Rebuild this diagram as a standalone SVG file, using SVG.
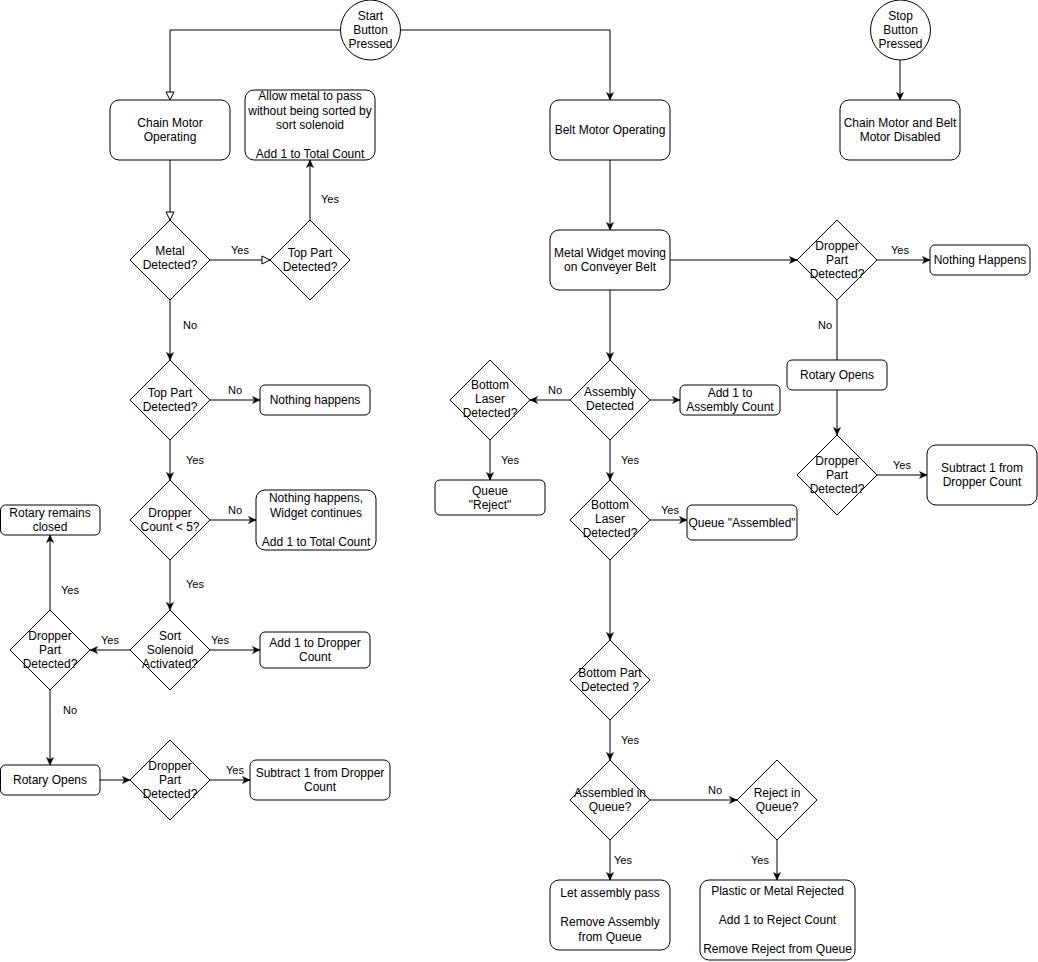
<svg xmlns="http://www.w3.org/2000/svg" width="1038" height="962" viewBox="0 0 1038 962">
<defs>
<style>
.n{fill:#fff;stroke:#000;stroke-width:1}
.t{font-family:"Liberation Sans",Arial,sans-serif;font-size:12px;fill:#000;text-anchor:middle;dominant-baseline:central}
.l{font-family:"Liberation Sans",Arial,sans-serif;font-size:11px;fill:#000;text-anchor:middle;dominant-baseline:central}
.e{fill:none;stroke:#000;stroke-width:1}
.f{marker-end:url(#arr)}
.o{marker-end:url(#open)}
</style>
<marker id="arr" markerUnits="userSpaceOnUse" markerWidth="10" markerHeight="10" refX="8" refY="4" orient="auto">
<path d="M0.5,0.5 L8,4 L0.5,7.5 L2.5,4 Z" fill="#000" stroke="#000" stroke-width="0.5"/>
</marker>
<marker id="open" markerUnits="userSpaceOnUse" markerWidth="11" markerHeight="11" refX="9" refY="5" orient="auto">
<path d="M1,1 L9,5 L1,9 Z" fill="#fff" stroke="#000" stroke-width="1"/>
</marker>
</defs>
<rect width="1038" height="962" fill="#fff"/>
<g id="connectors">
<path class="e o" d="M340,30 H170 V100"/>
<path class="e f" d="M401,30 H610 V100"/>
<path class="e o" d="M170,160 V220"/>
<path class="e o" d="M210,260 H270"/>
<path class="e f" d="M310,220 V160"/>
<path class="e f" d="M170,300 V360"/>
<path class="e f" d="M210,400 H260"/>
<path class="e f" d="M170,440 V480"/>
<path class="e f" d="M210,520 H256"/>
<path class="e f" d="M170,560 V610"/>
<path class="e f" d="M210,650 H260"/>
<path class="e f" d="M130,650 H90"/>
<path class="e f" d="M50,610 V535"/>
<path class="e f" d="M50,690 V765"/>
<path class="e f" d="M100,780 H130"/>
<path class="e f" d="M210,780 H250"/>
<path class="e f" d="M610,160 V230"/>
<path class="e f" d="M670,260 H797"/>
<path class="e f" d="M877,260 H930"/>
<path class="e" d="M837,300 V360"/>
<path class="e f" d="M837,390 V435"/>
<path class="e f" d="M877,475 H927"/>
<path class="e f" d="M900,60 V100"/>
<path class="e f" d="M610,290 V360"/>
<path class="e f" d="M650,400 H680"/>
<path class="e f" d="M570,400 H530"/>
<path class="e f" d="M490,440 V480"/>
<path class="e f" d="M610,440 V480"/>
<path class="e f" d="M650,520 H687"/>
<path class="e f" d="M610,560 V640"/>
<path class="e f" d="M610,720 V760"/>
<path class="e f" d="M650,800 H737"/>
<path class="e f" d="M777,840 V880"/>
<path class="e f" d="M610,840 V880"/>
<text class="l" x="240" y="250">Yes</text>
<text class="l" x="330" y="199">Yes</text>
<text class="l" x="190" y="325">No</text>
<text class="l" x="235" y="390">No</text>
<text class="l" x="195" y="460">Yes</text>
<text class="l" x="235" y="510">No</text>
<text class="l" x="195" y="584">Yes</text>
<text class="l" x="220" y="640">Yes</text>
<text class="l" x="110" y="640">Yes</text>
<text class="l" x="70" y="590">Yes</text>
<text class="l" x="70" y="710">No</text>
<text class="l" x="235" y="770">Yes</text>
<text class="l" x="900" y="250">Yes</text>
<text class="l" x="825" y="325">No</text>
<text class="l" x="902" y="465">Yes</text>
<text class="l" x="555" y="390">No</text>
<text class="l" x="510" y="460">Yes</text>
<text class="l" x="630" y="460">Yes</text>
<text class="l" x="670" y="510">Yes</text>
<text class="l" x="630" y="740">Yes</text>
<text class="l" x="715" y="790">No</text>
<text class="l" x="760" y="860">Yes</text>
<text class="l" x="623" y="860">Yes</text>
</g>
<g id="start"><circle class="n" cx="370.5" cy="30" r="30"/><text class="t" x="370.5" y="16">Start</text><text class="t" x="370.5" y="30">Button</text><text class="t" x="370.5" y="44">Pressed</text></g>
<g id="chainMotor"><rect class="n" x="110" y="100" width="120" height="60" rx="9"/><text class="t" x="170" y="123">Chain Motor</text><text class="t" x="170" y="137">Operating</text></g>
<g id="allowMetal"><rect class="n" x="245" y="90" width="130" height="70" rx="9"/><text class="t" x="310" y="96.2">Allow metal to pass</text><text class="t" x="310" y="110.6">without being sorted by</text><text class="t" x="310" y="125">sort solenoid</text><text class="t" x="310" y="153.8">Add 1 to Total Count</text></g>
<g id="metalDetected"><path class="n" d="M170,220 L210,260 L170,300 L130,260 Z"/><text class="t" x="170" y="251">Metal</text><text class="t" x="170" y="265">Detected?</text></g>
<g id="topPart1"><path class="n" d="M310,220 L350,260 L310,300 L270,260 Z"/><text class="t" x="310" y="253">Top Part</text><text class="t" x="310" y="267">Detected?</text></g>
<g id="topPart2"><path class="n" d="M170,360 L210,400 L170,440 L130,400 Z"/><text class="t" x="170" y="393">Top Part</text><text class="t" x="170" y="407">Detected?</text></g>
<g id="nothing1"><rect class="n" x="260" y="385" width="110" height="30" rx="5"/><text class="t" x="315" y="400">Nothing happens</text></g>
<g id="dropperCount"><path class="n" d="M170,480 L210,520 L170,560 L130,520 Z"/><text class="t" x="170" y="513">Dropper</text><text class="t" x="170" y="527">Count &lt; 5?</text></g>
<g id="nothing2"><rect class="n" x="256" y="490" width="120" height="60" rx="9"/><text class="t" x="316" y="498.4">Nothing happens,</text><text class="t" x="316" y="512.8">Widget continues</text><text class="t" x="316" y="541.6">Add 1 to Total Count</text></g>
<g id="sortSolenoid"><path class="n" d="M170,610 L210,650 L170,690 L130,650 Z"/><text class="t" x="170" y="635.6">Sort</text><text class="t" x="170" y="650">Solenoid</text><text class="t" x="170" y="664.4">Activated?</text></g>
<g id="addDropper"><rect class="n" x="260" y="632" width="110" height="36" rx="5"/><text class="t" x="315" y="643">Add 1 to Dropper</text><text class="t" x="315" y="657">Count</text></g>
<g id="dropperPartL1"><path class="n" d="M50,610 L90,650 L50,690 L10,650 Z"/><text class="t" x="50" y="635.6">Dropper</text><text class="t" x="50" y="650">Part</text><text class="t" x="50" y="664.4">Detected?</text></g>
<g id="rotaryClosed"><rect class="n" x="0.5" y="505" width="99.5" height="30" rx="5"/><text class="t" x="50" y="513">Rotary remains</text><text class="t" x="50" y="527">closed</text></g>
<g id="rotaryOpensL"><rect class="n" x="0.5" y="765" width="99.5" height="30" rx="5"/><text class="t" x="50" y="780">Rotary Opens</text></g>
<g id="dropperPartL2"><path class="n" d="M170,740 L210,780 L170,820 L130,780 Z"/><text class="t" x="170" y="765.6">Dropper</text><text class="t" x="170" y="780">Part</text><text class="t" x="170" y="794.4">Detected?</text></g>
<g id="subtractL"><rect class="n" x="250" y="760" width="140" height="40" rx="6"/><text class="t" x="320" y="773">Subtract 1 from Dropper</text><text class="t" x="320" y="787">Count</text></g>
<g id="beltMotor"><rect class="n" x="550" y="100" width="120" height="60" rx="9"/><text class="t" x="610" y="130">Belt Motor Operating</text></g>
<g id="metalWidget"><rect class="n" x="550" y="230" width="120" height="60" rx="9"/><text class="t" x="610" y="253">Metal Widget moving</text><text class="t" x="610" y="267">on Conveyer Belt</text></g>
<g id="dropperPartR1"><path class="n" d="M837,220 L877,260 L837,300 L797,260 Z"/><text class="t" x="837" y="245.6">Dropper</text><text class="t" x="837" y="260">Part</text><text class="t" x="837" y="274.4">Detected?</text></g>
<g id="nothingHappensR"><rect class="n" x="930" y="245" width="100" height="30" rx="5"/><text class="t" x="980" y="260">Nothing Happens</text></g>
<g id="rotaryOpensR"><rect class="n" x="787" y="360" width="100" height="30" rx="5"/><text class="t" x="837" y="375">Rotary Opens</text></g>
<g id="dropperPartR2"><path class="n" d="M837,435 L877,475 L837,515 L797,475 Z"/><text class="t" x="837" y="460.6">Dropper</text><text class="t" x="837" y="475">Part</text><text class="t" x="837" y="489.4">Detected?</text></g>
<g id="subtractR"><rect class="n" x="927" y="445" width="110" height="60" rx="9"/><text class="t" x="982" y="468">Subtract 1 from</text><text class="t" x="982" y="482">Dropper Count</text></g>
<g id="stop"><circle class="n" cx="900.5" cy="30" r="30"/><text class="t" x="900.5" y="16">Stop</text><text class="t" x="900.5" y="30">Button</text><text class="t" x="900.5" y="44">Pressed</text></g>
<g id="motorsDisabled"><rect class="n" x="840" y="100" width="120" height="60" rx="9"/><text class="t" x="900" y="123">Chain Motor and Belt</text><text class="t" x="900" y="137">Motor Disabled</text></g>
<g id="assemblyDetected"><path class="n" d="M610,360 L650,400 L610,440 L570,400 Z"/><text class="t" x="610" y="392">Assembly</text><text class="t" x="610" y="406">Detected</text></g>
<g id="addAssembly"><rect class="n" x="680" y="385" width="100" height="30" rx="5"/><text class="t" x="730" y="393">Add 1 to</text><text class="t" x="730" y="407">Assembly Count</text></g>
<g id="bottomLaser1"><path class="n" d="M490,360 L530,400 L490,440 L450,400 Z"/><text class="t" x="490" y="384.6">Bottom</text><text class="t" x="490" y="399">Laser</text><text class="t" x="490" y="413.4">Detected?</text></g>
<g id="queueReject"><rect class="n" x="435" y="480" width="110" height="35" rx="5"/><text class="t" x="490" y="490.5">Queue</text><text class="t" x="490" y="504.5">"Reject"</text></g>
<g id="bottomLaser2"><path class="n" d="M610,480 L650,520 L610,560 L570,520 Z"/><text class="t" x="610" y="504.6">Bottom</text><text class="t" x="610" y="519">Laser</text><text class="t" x="610" y="533.4">Detected?</text></g>
<g id="queueAssembled"><rect class="n" x="687" y="505" width="110" height="35" rx="5"/><text class="t" x="742" y="522.5">Queue "Assembled"</text></g>
<g id="bottomPart"><path class="n" d="M610,640 L650,680 L610,720 L570,680 Z"/><text class="t" x="610" y="673">Bottom Part</text><text class="t" x="610" y="687">Detected ?</text></g>
<g id="assembledInQueue"><path class="n" d="M610,760 L650,800 L610,840 L570,800 Z"/><text class="t" x="610" y="793">Assembled in</text><text class="t" x="610" y="807">Queue?</text></g>
<g id="rejectInQueue"><path class="n" d="M777,760 L817,800 L777,840 L737,800 Z"/><text class="t" x="777" y="793">Reject in</text><text class="t" x="777" y="807">Queue?</text></g>
<g id="letPass"><rect class="n" x="550" y="880" width="120" height="70" rx="9"/><text class="t" x="610" y="893.4">Let assembly pass</text><text class="t" x="610" y="922.2">Remove Assembly</text><text class="t" x="610" y="936.6">from Queue</text></g>
<g id="plasticRejected"><rect class="n" x="700" y="880" width="155" height="80" rx="9"/><text class="t" x="777.5" y="891.2">Plastic or Metal Rejected</text><text class="t" x="777.5" y="920">Add 1 to Reject Count</text><text class="t" x="777.5" y="948.8">Remove Reject from Queue</text></g>
</svg>
